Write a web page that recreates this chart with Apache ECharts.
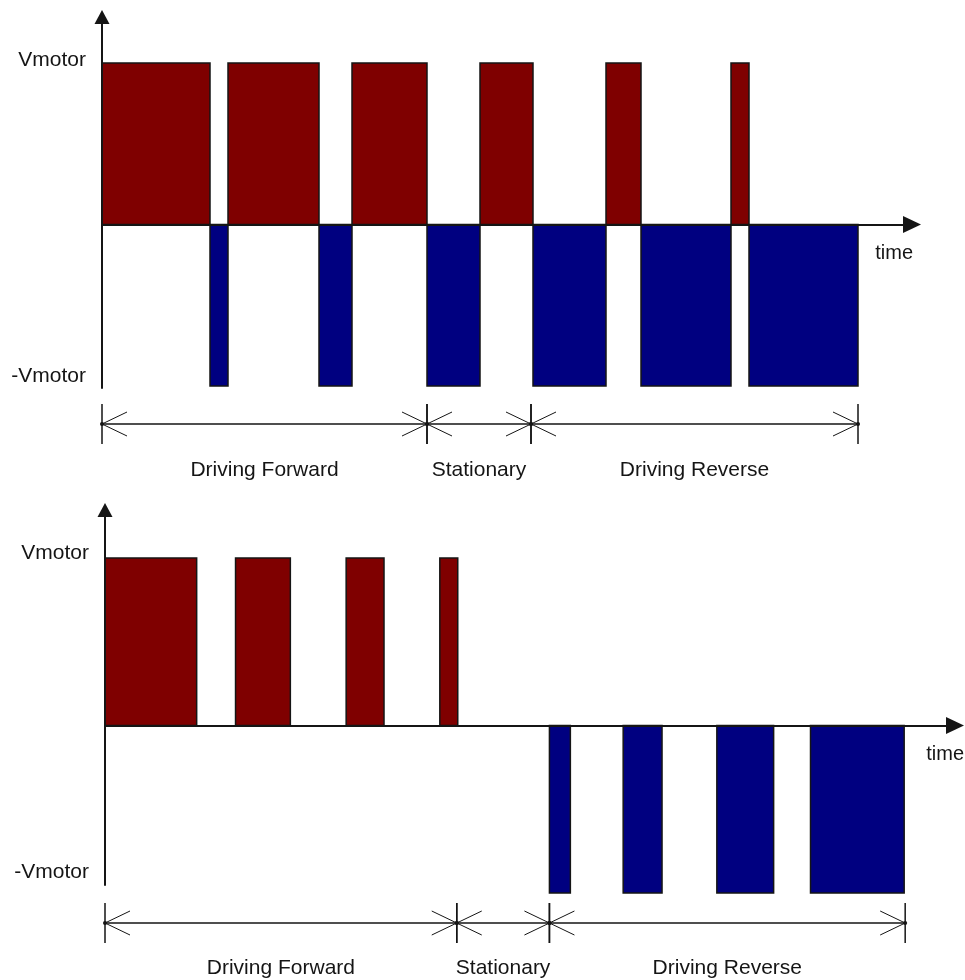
<!DOCTYPE html>
<html>
<head>
<meta charset="utf-8">
<style>
  html, body { margin: 0; padding: 0; background: #ffffff; }
  #chart { width: 965px; height: 980px; }
</style>
<script src="https://cdn.jsdelivr.net/npm/echarts@6/dist/echarts.min.js"></script>
</head>
<body>
<div id="chart"></div>
<script>
// ---- Data (time in arbitrary units, level in units of Vmotor) ----
const levelValues = [1, -1];
const levelNames = ['Vmotor', '-Vmotor'];
const timeName = 'time';

// Top panel: complementary PWM (signal always +V or -V)
const topEdges  = [0, 10.8, 12.6, 21.7, 25.0, 32.5, 37.8, 43.1, 50.4, 53.9, 62.9, 64.7, 75.6];
const topLevels = [1, -1, 1, -1, 1, -1, 1, -1, 1, -1, 1, -1];
const topPhaseBounds = [0, 32.5, 42.9, 75.6];

// Bottom panel: sign-magnitude PWM (signal +V / 0 / -V)
const bottomEdges  = [0, 9.2, 13.1, 18.6, 24.2, 28.0, 33.6, 35.4, 44.6, 46.7, 52.0, 55.9, 61.4, 67.1, 70.8, 80.2];
const bottomLevels = [1, 0, 1, 0, 1, 0, 1, 0, -1, 0, -1, 0, -1, 0, -1];
const bottomPhaseBounds = [0, 35.3, 44.6, 80.3];

const phaseNames = ['Driving Forward', 'Stationary', 'Driving Reverse'];

// ---- Styles ----
const RED = '#7f0000';
const BLUE = '#000080';
const INK = '#151515';
const FONT = "'Liberation Sans', Arial, sans-serif";

function pulsesFrom(edges, levels) {
  const out = [];
  for (let i = 0; i < levels.length; i++) out.push([edges[i], edges[i + 1], levels[i]]);
  return out;
}
function phasesFrom(bounds) {
  const out = [];
  for (let i = 0; i < bounds.length - 1; i++) out.push([bounds[i], bounds[i + 1], i]);
  return out;
}

function pulseRender(params, api) {
  const x0 = api.value(0), x1 = api.value(1), lv = api.value(2);
  if (lv === 0) return null;
  const pa = api.coord([x0, lv]);
  const pb = api.coord([x1, 0]);
  return {
    type: 'rect',
    shape: { x: pa[0], y: Math.min(pa[1], pb[1]), width: pb[0] - pa[0], height: Math.abs(pb[1] - pa[1]) },
    style: { fill: lv > 0 ? RED : BLUE, stroke: INK, lineWidth: 1.5 }
  };
}

function makePhaseRender(lineOffset, textOffset) {
  return function (params, api) {
    const cs = params.coordSys;
    const y = cs.y + cs.height + lineOffset;
    const xa = api.coord([api.value(0), 0])[0];
    const xb = api.coord([api.value(1), 0])[0];
    const idx = api.value(2);
    const thin = { stroke: INK, lineWidth: 1 };
    const children = [
      { type: 'line', shape: { x1: xa, y1: y, x2: xb, y2: y }, style: { stroke: INK, lineWidth: 1.5 } },
      { type: 'line', shape: { x1: xa, y1: y - 20, x2: xa, y2: y + 20 }, style: { stroke: INK, lineWidth: 1.5 } },
      { type: 'line', shape: { x1: xb, y1: y - 20, x2: xb, y2: y + 20 }, style: { stroke: INK, lineWidth: 1.5 } },
      // arrow head "<" at start
      { type: 'line', shape: { x1: xa, y1: y, x2: xa + 25, y2: y - 12 }, style: thin },
      { type: 'line', shape: { x1: xa, y1: y, x2: xa + 25, y2: y + 12 }, style: thin },
      // arrow head ">" at end
      { type: 'line', shape: { x1: xb, y1: y, x2: xb - 25, y2: y - 12 }, style: thin },
      { type: 'line', shape: { x1: xb, y1: y, x2: xb - 25, y2: y + 12 }, style: thin },
      { type: 'circle', shape: { cx: xa, cy: y, r: 2 }, style: { fill: INK } },
      { type: 'circle', shape: { cx: xb, cy: y, r: 2 }, style: { fill: INK } },
      {
        type: 'text',
        style: {
          x: (xa + xb) / 2, y: y + textOffset, text: phaseNames[idx],
          align: 'center', verticalAlign: 'middle',
          font: '21px ' + FONT, fill: INK
        }
      }
    ];
    return { type: 'group', children: children };
  };
}

function makeLevelRender(offsets) {
  return function (params, api) {
    const p = api.coord([0, api.value(1)]);
    return {
      type: 'text',
      style: {
        x: p[0] - 16, y: p[1] + offsets[params.dataIndex], text: levelNames[params.dataIndex],
        align: 'right', verticalAlign: 'middle',
        font: '21px ' + FONT, fill: INK
      }
    };
  };
}

function xAxisCfg(gridIndex, max, nameGap) {
  return {
    type: 'value', gridIndex: gridIndex, min: 0, max: max, z: 5,
    name: timeName, nameLocation: 'end', nameGap: nameGap,
    nameTextStyle: { fontFamily: FONT, fontSize: 20, color: INK, align: 'right', verticalAlign: 'top', lineHeight: 20, padding: [19, 0, 0, 0] },
    axisLine: { onZero: true, symbol: ['none', 'triangle'], symbolSize: [17, 18], lineStyle: { color: INK, width: 2 } },
    axisTick: { show: false }, axisLabel: { show: false }, splitLine: { show: false }
  };
}
function yAxisCfg(gridIndex, min, max) {
  return {
    type: 'value', gridIndex: gridIndex, min: min, max: max, z: 5,
    axisLine: { onZero: true, symbol: ['none', 'triangle'], symbolSize: [15, 14], lineStyle: { color: INK, width: 2 } },
    axisTick: { show: false }, axisLabel: { show: false }, splitLine: { show: false }
  };
}

const chart = echarts.init(document.getElementById('chart'), null, { renderer: 'canvas' });
chart.setOption({
  backgroundColor: '#ffffff',
  animation: false,
  grid: [
    { left: 102, top: 17, width: 810, height: 371 },
    { left: 105, top: 510, width: 853, height: 375 }
  ],
  xAxis: [xAxisCfg(0, 81.0, 1), xAxisCfg(1, 85.3, 9)],
  yAxis: [yAxisCfg(0, -1.012, 1.285), yAxisCfg(1, -0.952, 1.287)],
  series: [
    { type: 'custom', xAxisIndex: 0, yAxisIndex: 0, clip: false, renderItem: pulseRender,
      encode: { x: [0, 1], y: 2 }, data: pulsesFrom(topEdges, topLevels) },
    { type: 'custom', xAxisIndex: 1, yAxisIndex: 1, clip: false, renderItem: pulseRender,
      encode: { x: [0, 1], y: 2 }, data: pulsesFrom(bottomEdges, bottomLevels) },
    { type: 'custom', xAxisIndex: 0, yAxisIndex: 0, clip: false, renderItem: makePhaseRender(36, 46),
      encode: { x: [0, 1] }, data: phasesFrom(topPhaseBounds) },
    { type: 'custom', xAxisIndex: 1, yAxisIndex: 1, clip: false, renderItem: makePhaseRender(38, 45),
      encode: { x: [0, 1] }, data: phasesFrom(bottomPhaseBounds) },
    { type: 'custom', xAxisIndex: 0, yAxisIndex: 0, clip: false, renderItem: makeLevelRender([-3, -10]),
      encode: { x: 0, y: 1 }, data: levelValues.map(v => [0, v]) },
    { type: 'custom', xAxisIndex: 1, yAxisIndex: 1, clip: false, renderItem: makeLevelRender([-5, -21]),
      encode: { x: 0, y: 1 }, data: levelValues.map(v => [0, v]) }
  ]
});
</script>
</body>
</html>
